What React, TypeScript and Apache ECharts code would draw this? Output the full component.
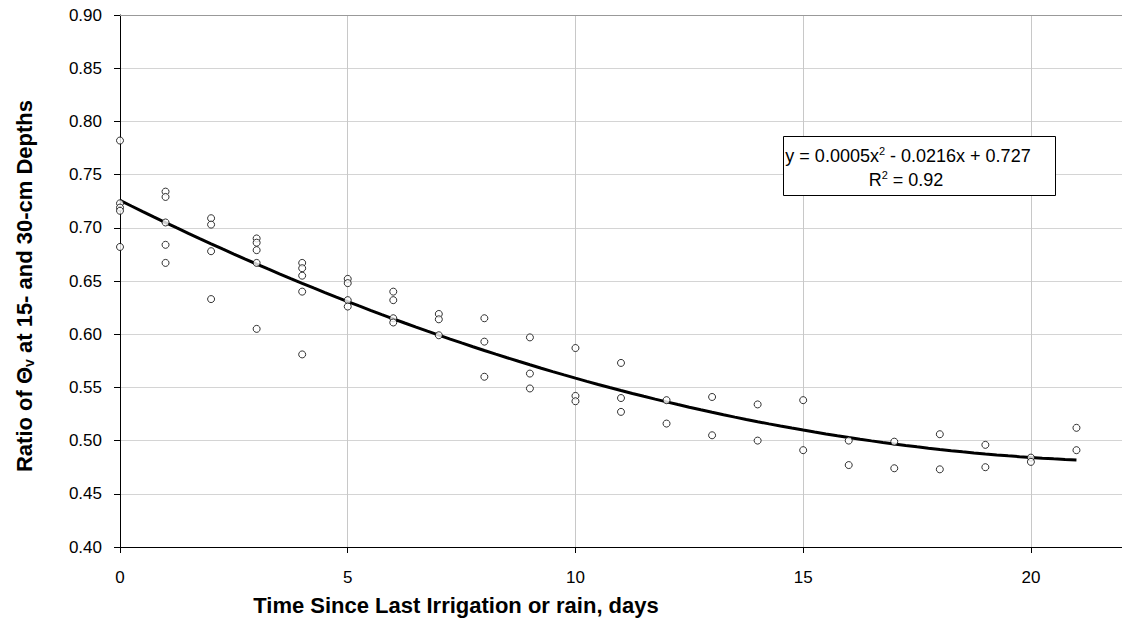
import React, { useEffect, useRef } from "react";
import * as echarts from "echarts";

const days = [0, 1, 2, 3, 4, 5, 6, 7, 8, 9, 10, 11, 12, 13, 14, 15, 16, 17, 18, 19, 20, 21];
const ratios: number[][] = [
  [0.782, 0.723, 0.719, 0.716, 0.682],
  [0.734, 0.729, 0.705, 0.684, 0.667],
  [0.709, 0.703, 0.678, 0.633],
  [0.690, 0.686, 0.679, 0.667, 0.605],
  [0.667, 0.662, 0.655, 0.640, 0.581],
  [0.652, 0.648, 0.632, 0.626],
  [0.640, 0.632, 0.615, 0.611],
  [0.619, 0.614, 0.599],
  [0.615, 0.593, 0.560],
  [0.597, 0.563, 0.549],
  [0.587, 0.542, 0.537],
  [0.573, 0.540, 0.527],
  [0.538, 0.516],
  [0.541, 0.505],
  [0.534, 0.500],
  [0.538, 0.491],
  [0.500, 0.477],
  [0.499, 0.474],
  [0.506, 0.473],
  [0.496, 0.475],
  [0.484, 0.480],
  [0.512, 0.491],
];
const equationText = "y = 0.0005x{sup|2} - 0.0216x + 0.727";
const r2Text = "R{sup|2} = 0.92";
const xTitle = "Time Since Last Irrigation or rain, days";
const yTitle = "Ratio of Θ{sub|v} at 15- and 30-cm Depths";

// least-squares quadratic fit derived from the data
function quadFit(pts: number[][]) {
  let s0 = 0, s1 = 0, s2 = 0, s3 = 0, s4 = 0, t0 = 0, t1 = 0, t2 = 0;
  for (const [x, y] of pts) {
    s0 += 1; s1 += x; s2 += x * x; s3 += x ** 3; s4 += x ** 4;
    t0 += y; t1 += x * y; t2 += x * x * y;
  }
  const A = [
    [s4, s3, s2, t2],
    [s3, s2, s1, t1],
    [s2, s1, s0, t0],
  ];
  for (let i = 0; i < 3; i++) {
    for (let k = i + 1; k < 3; k++) {
      const f = A[k][i] / A[i][i];
      for (let j = i; j < 4; j++) A[k][j] -= f * A[i][j];
    }
  }
  const c = [0, 0, 0];
  for (let i = 2; i >= 0; i--) {
    let s = A[i][3];
    for (let j = i + 1; j < 3; j++) s -= A[i][j] * c[j];
    c[i] = s / A[i][i];
  }
  return c; // a, b, c
}

export default function App() {
  const ref = useRef<HTMLDivElement>(null);
  useEffect(() => {
    if (!ref.current) return;
    const chart = echarts.init(ref.current, undefined, { renderer: "svg" });
    const points: number[][] = [];
    days.forEach((d, i) => ratios[i].forEach((v) => points.push([d, v])));
    const [a, b, c] = quadFit(points);
    const trend: number[][] = [];
    for (let x = days[0]; x <= days[days.length - 1] + 1e-9; x += 0.25) {
      trend.push([x, a * x * x + b * x + c]);
    }
    const font = "'Liberation Sans', Arial, sans-serif";
    chart.setOption({
      animation: false,
      grid: { left: 120, right: 0, top: 15, bottom: 76, containLabel: false },
      xAxis: [
        {
          type: "value",
          min: 0,
          max: 22,
          interval: 5,
          axisLine: { show: true, onZero: false, lineStyle: { color: "#000", width: 1 } },
          axisTick: { show: true, inside: false, length: 6, lineStyle: { color: "#000" } },
          axisLabel: {
            color: "#000",
            fontFamily: font,
            fontSize: 17,
            margin: 22,
            showMaxLabel: false,
            formatter: (v: number) => (v > 20 ? "" : String(v)),
          },
          splitLine: { show: true, lineStyle: { color: "#c8c8c8", width: 1 } },
        },
        {
          type: "value",
          position: "top",
          min: 0,
          max: 22,
          axisLine: { show: true, lineStyle: { color: "#999", width: 1 } },
          axisTick: { show: false },
          axisLabel: { show: false },
          splitLine: { show: false },
        },
      ],
      yAxis: {
        type: "value",
        min: 0.4,
        max: 0.9,
        interval: 0.05,
        axisLine: { show: true, onZero: false, lineStyle: { color: "#000", width: 1 } },
        axisTick: { show: true, inside: false, length: 6, lineStyle: { color: "#000" } },
        axisLabel: {
          color: "#000",
          fontFamily: font,
          fontSize: 17,
          margin: 18,
          formatter: (v: number) => v.toFixed(2),
        },
        splitLine: { show: true, lineStyle: { color: "#d4d4d4", width: 1 } },
      },
      series: [
        {
          type: "line",
          data: trend,
          symbol: "none",
          smooth: false,
          lineStyle: { color: "#000", width: 3 },
          z: 3,
        },
        {
          type: "scatter",
          data: points,
          symbol: "circle",
          symbolSize: 7,
          clip: false,
          itemStyle: { color: "#fff", borderColor: "#000", borderWidth: 1 },
          z: 4,
        },
      ],
      graphic: [
        {
          type: "rect",
          shape: { x: 783.5, y: 136.5, width: 272, height: 59 },
          style: { fill: "#fff", stroke: "#000", lineWidth: 1 },
          z: 10,
        },
        {
          type: "text",
          x: 908,
          y: 156,
          z: 11,
          style: {
            text: equationText,
            fontFamily: font,
            fontSize: 18,
            fill: "#000",
            align: "center",
            verticalAlign: "middle",
            rich: {
              sup: { fontSize: 11, verticalAlign: "top", padding: [0, 0, 10, 0], fontFamily: font },
            },
          },
        },
        {
          type: "text",
          x: 906,
          y: 180,
          z: 11,
          style: {
            text: r2Text,
            fontFamily: font,
            fontSize: 18,
            fill: "#000",
            align: "center",
            verticalAlign: "middle",
            rich: {
              sup: { fontSize: 11, verticalAlign: "top", padding: [0, 0, 10, 0], fontFamily: font },
            },
          },
        },
        {
          type: "text",
          x: 456,
          y: 605,
          style: {
            text: xTitle,
            fontFamily: font,
            fontSize: 22,
            fontWeight: "bold",
            fill: "#000",
            align: "center",
            verticalAlign: "middle",
          },
        },
        {
          type: "text",
          x: 24,
          y: 286,
          rotation: Math.PI / 2,
          style: {
            text: yTitle,
            fontFamily: font,
            fontSize: 22,
            fontWeight: "bold",
            fill: "#000",
            align: "center",
            verticalAlign: "middle",
            rich: {
              sub: { fontSize: 14, fontWeight: "bold", fontFamily: font, padding: [10, 0, 0, 0] },
            },
          },
        },
      ],
    });
    return () => chart.dispose();
  }, []);
  return (
    <div
      ref={ref}
      style={{ position: "absolute", left: 0, top: 0, width: 1122, height: 623, background: "#fff" }}
    />
  );
}
